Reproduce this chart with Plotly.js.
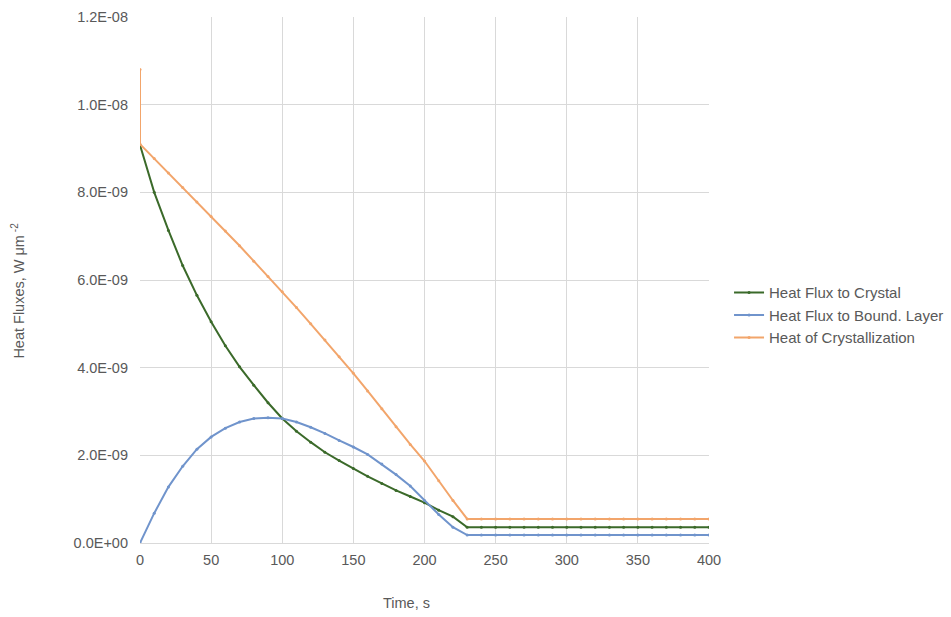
<!DOCTYPE html>
<html>
<head>
<meta charset="utf-8">
<script src="https://cdn.plot.ly/plotly-3.0.1.min.js"></script>
<style>html,body{margin:0;padding:0;background:#fff;}#chart{width:951px;height:617px;}</style>
</head>
<body>
<div id="chart"></div>
<script>
// Time, s (every 10 s)
const time = [0,10,20,30,40,50,60,70,80,90,100,110,120,130,140,150,160,170,180,190,200,210,220,230,240,250,260,270,280,290,300,310,320,330,340,350,360,370,380,390,400];
// Heat flux to crystal, units of 1e-9 W/um^2
const crystal = [9.08,8.00,7.13,6.33,5.65,5.05,4.50,4.02,3.60,3.20,2.84,2.55,2.30,2.07,1.88,1.70,1.52,1.36,1.20,1.06,0.92,0.75,0.60,0.36,0.36,0.36,0.36,0.36,0.36,0.36,0.36,0.36,0.36,0.36,0.36,0.36,0.36,0.36,0.36,0.36,0.36];
// Heat flux to boundary layer, units of 1e-9 W/um^2
const boundLayer = [0.00,0.68,1.28,1.75,2.14,2.42,2.62,2.76,2.84,2.86,2.84,2.76,2.64,2.50,2.34,2.19,2.02,1.80,1.56,1.30,0.97,0.65,0.36,0.18,0.18,0.18,0.18,0.18,0.18,0.18,0.18,0.18,0.18,0.18,0.18,0.18,0.18,0.18,0.18,0.18,0.18];
// Heat of crystallization (starts with an initial spike at t=0), units of 1e-9 W/um^2
const crystTime = [0].concat(time);
const crystallization = [10.8,9.10,8.77,8.44,8.11,7.78,7.45,7.12,6.78,6.43,6.08,5.73,5.37,5.00,4.63,4.25,3.87,3.47,3.06,2.65,2.25,1.87,1.42,0.97,0.55,0.55,0.55,0.55,0.55,0.55,0.55,0.55,0.55,0.55,0.55,0.55,0.55,0.55,0.55,0.55,0.55,0.55];

const yTickVals = [0,2e-9,4e-9,6e-9,8e-9,1e-8,1.2e-8];
const yTickText = ["0.0E+00","2.0E-09","4.0E-09","6.0E-09","8.0E-09","1.0E-08","1.2E-08"];
const xTickVals = [0,50,100,150,200,250,300,350,400];

const scale = v => v * 1e-9;
const gray = "#595959";
const fam = "Liberation Sans, Arial, sans-serif";
const tickFont = {family: fam, size: 14.5, color: gray};
const legFont = {family: fam, size: 15, color: gray};

const traces = [
  {name: "Heat Flux to Crystal", x: time, y: crystal.map(scale), mode: "lines+markers",
   line: {color: "#3b6a2a", width: 2}, marker: {color: "#3b6a2a", size: 3}},
  {name: "Heat Flux to Bound. Layer", x: time, y: boundLayer.map(scale), mode: "lines+markers",
   line: {color: "#7094cc", width: 2}, marker: {color: "#7094cc", size: 3}},
  {name: "Heat of Crystallization", x: crystTime, y: crystallization.map(scale), mode: "lines+markers",
   line: {color: "#f2a56b", width: 2}, marker: {color: "#f2a56b", size: 3}}
];

const layout = {
  width: 951, height: 617,
  margin: {l: 140, r: 242, t: 17, b: 74},
  paper_bgcolor: "#fff", plot_bgcolor: "#fff",
  font: legFont,
  showlegend: true,
  legend: {xref: "container", x: 0.7666, y: 0.433, xanchor: "left", yanchor: "middle", font: legFont, tracegroupgap: 0, itemwidth: 30},
  xaxis: {range: [0, 400], tickvals: xTickVals, ticktext: xTickVals.map(String),
    showgrid: true, gridcolor: "#d9d9d9", gridwidth: 1, zeroline: false,
    showline: true, linecolor: "#d9d9d9", linewidth: 1, ticks: "", tickfont: tickFont,
    ticklabelstandoff: 4, automargin: false},
  yaxis: {range: [0, 1.2e-8], tickvals: yTickVals, ticktext: yTickText,
    showgrid: true, gridcolor: "#d9d9d9", gridwidth: 1, zeroline: false,
    showline: false, ticks: "", tickfont: tickFont, ticklabelstandoff: 11, automargin: false},
  annotations: [
    {text: "Time, s", xref: "paper", yref: "paper", x: 0.469, y: -0.115, xanchor: "center", yanchor: "middle",
     showarrow: false, font: {family: fam, size: 14.5, color: gray}},
    {text: "Heat Fluxes, W μm<sup> -2</sup>", xref: "paper", yref: "paper", x: -0.216, y: 0.48, xanchor: "center", yanchor: "middle",
     textangle: -90, showarrow: false, font: {family: fam, size: 14.5, color: gray}}
  ]
};

Plotly.newPlot("chart", traces, layout, {displayModeBar: false, staticPlot: true});
</script>
</body>
</html>
